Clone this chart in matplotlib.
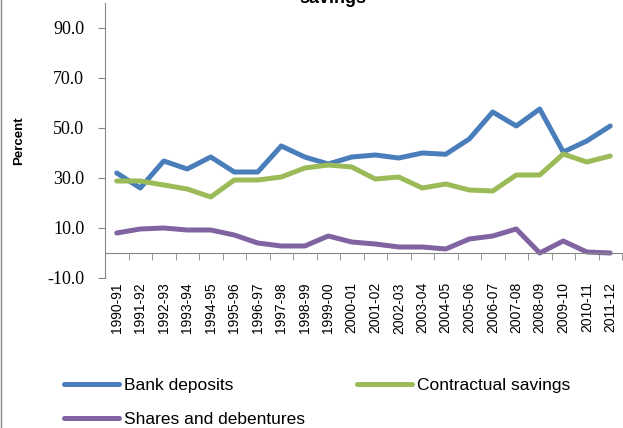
import matplotlib
matplotlib.use('Agg')
import matplotlib.pyplot as plt
import numpy as np

# data
years = ['1990-91', '1991-92', '1992-93', '1993-94', '1994-95', '1995-96',
         '1996-97', '1997-98', '1998-99', '1999-00', '2000-01', '2001-02',
         '2002-03', '2003-04', '2004-05', '2005-06', '2006-07', '2007-08',
         '2008-09', '2009-10', '2010-11', '2011-12']
bank = [32.0, 26.0, 36.8, 33.6, 38.4, 32.4, 32.4, 42.8, 38.4, 35.6, 38.4,
        39.2, 38.0, 40.0, 39.5, 45.6, 56.4, 50.8, 57.6, 40.4, 44.8, 50.8]
contractual = [28.8, 28.8, 27.2, 25.6, 22.4, 29.2, 29.2, 30.4, 34.0, 35.2, 34.4,
               29.6, 30.4, 26.0, 27.6, 25.2, 24.8, 31.2, 31.2, 39.6, 36.4, 38.8]
shares = [8.0, 9.6, 10.0, 9.2, 9.2, 7.2, 4.0, 2.8, 2.8, 6.8, 4.4,
          3.6, 2.4, 2.4, 1.6, 5.6, 6.8, 9.6, 0.0, 4.8, 0.4, 0.0]
yticks = [-10, 10, 30, 50, 70, 90]

fig = plt.figure(figsize=(6.23, 4.28), dpi=100)
ax = fig.add_axes([105 / 623, 1 - 278 / 428, 517 / 623, 275 / 428])

x = np.arange(len(years))
l1, = ax.plot(x, bank, color='#4A7EBB', lw=3.6, label='Bank deposits', solid_capstyle='round')
l2, = ax.plot(x, contractual, color='#9BBB59', lw=3.6, label='Contractual savings', solid_capstyle='round')
l3, = ax.plot(x, shares, color='#8064A2', lw=3.6, label='Shares and debentures', solid_capstyle='round')

ax.set_xlim(-0.5, len(years) - 0.5)
ax.set_ylim(-10, 100)

# axes styling, excel look
for s in ['top', 'right']:
    ax.spines[s].set_visible(False)
ax.spines['left'].set_color('#868686')
ax.spines['bottom'].set_color('#868686')
ax.spines['bottom'].set_position(('data', 0))

ax.set_yticks(yticks)
ax.set_yticklabels(['%.1f' % v for v in yticks], family='Liberation Serif', fontsize=13)
ax.tick_params(axis='y', direction='out', length=5, color='#868686', pad=10)

ax.set_xticks(x)
ax.set_xticklabels(years, rotation=90, family='Liberation Sans', fontsize=10)
ax.set_xticks(np.arange(len(years) + 1) - 0.5, minor=True)
ax.tick_params(axis='x', which='major', length=0, pad=21)
ax.tick_params(axis='x', which='minor', direction='out', length=5, color='#868686')

ax.set_ylabel('Percent', family='Liberation Sans', fontweight='bold', fontsize=9.5)
ax.yaxis.set_label_coords(-0.155, 0.5)

# chopped off title
fig.text(333 / 623, 1 - 3 / 428, 'savings', ha='center', va='baseline',
         family='Liberation Sans', fontweight='bold', fontsize=13)

# left border of the chart area
fig.add_artist(plt.Line2D([0.5 / 623, 0.5 / 623], [0, 1], color='#868686', lw=1))

leg = fig.legend([l1, l3, l2], ['Bank deposits', 'Shares and debentures', 'Contractual savings'],
                 ncol=2, loc='upper left', bbox_to_anchor=(48 / 623, 1 - 362 / 428),
                 frameon=False, prop={'family': 'Liberation Sans', 'size': 12.5},
                 handlelength=3.2, handletextpad=0.3, columnspacing=2.95, labelspacing=1.08)

fig.savefig('out.png', dpi=100)
